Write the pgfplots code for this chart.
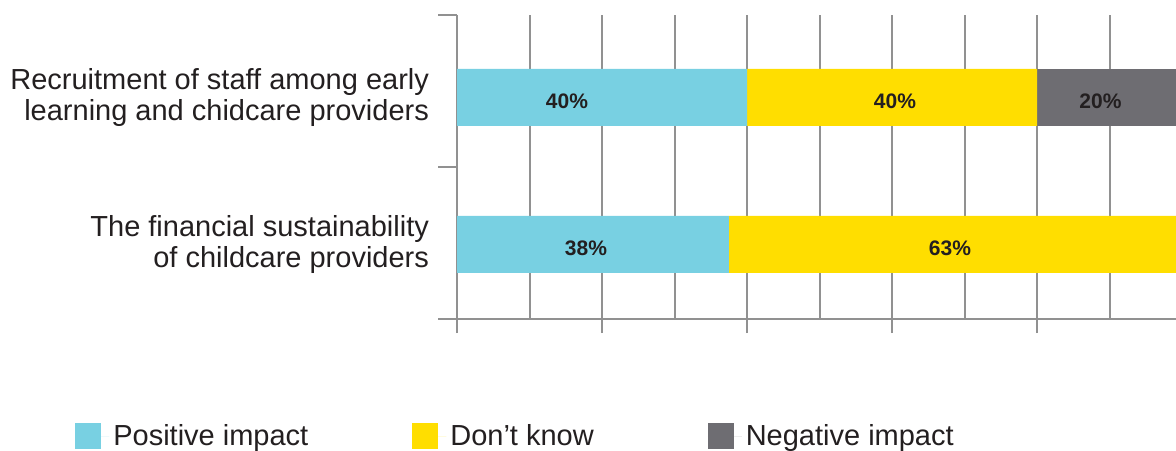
\documentclass[border=0pt]{standalone}
\usepackage{fontspec}
\setmainfont{Liberation Sans}
\usepackage{pgfplots}
\pgfplotsset{compat=1.18}
\definecolor{cpos}{RGB}{120,208,226}
\definecolor{cdk}{RGB}{255,222,0}
\definecolor{cneg}{RGB}{110,109,114}
\definecolor{cgrid}{RGB}{145,145,145}
\definecolor{ctext}{RGB}{35,31,32}
\protected\def\lbl#1#2{\makebox[0pt][c]{\hspace*{#1}#2}}
\begin{document}
\begin{tikzpicture}
\useasboundingbox (0,0) rectangle (588pt,225pt);
\clip (0,0) rectangle (588pt,225pt);
\begin{axis}[
 at={(228.5pt,65.5pt)}, anchor=south west,
 scale only axis, width=362.5pt, height=152pt,
 xbar stacked, bar width=0.388,
 xmin=0, xmax=100, ymin=-0.507, ymax=1.561,
 axis x line*=bottom, axis y line*=left,
 axis line style={cgrid, line width=1pt, -},
 xtick={0,20,...,100}, xticklabels={},
 minor xtick={10,30,...,90},
 xmajorgrids, xminorgrids,
 major grid style={cgrid, line width=1pt},
 minor grid style={cgrid, line width=1pt},
 tick align=outside,
 major tick length=9.5pt,
 x tick style={cgrid, line width=1pt, yshift=2.5pt},
 minor x tick style={draw=none},
 ytick={-0.507,0.527,1.561}, yticklabels={},
 y tick style={cgrid, line width=1pt},
 extra y ticks={0,1},
 extra y tick labels={{The financial sustainability\\of childcare providers},{Recruitment of staff among early\\learning and chidcare providers}},
 extra y tick style={tick style={draw=none}, yticklabel style={align=right, font=\fontsize{14.5}{15.5}\selectfont, text=ctext, xshift=-1pt}},
 point meta=explicit symbolic,
 nodes near coords={\pgfplotspointmeta},
 every node near coord/.append style={font=\fontsize{10.5}{12}\selectfont\bfseries, text=ctext, yshift=-2pt},
 legend columns=3,
 legend style={at={(-0.527,-0.385)}, anchor=west, draw=none, fill=none, inner sep=0pt, font=\fontsize{14.5}{16}\selectfont, text=ctext, /tikz/column 2/.style={column sep=50pt}, /tikz/column 4/.style={column sep=55pt}},
 legend image code/.code={\fill[#1] (0pt,-6.5pt) rectangle (13pt,6.5pt); \path (0pt,0pt) -- (17pt,0pt);},
 legend cell align=left,
]
\addplot[fill=cpos, draw=none] coordinates {(37.5,0) [\lbl{-7pt}{38\%}] (40,1) [\lbl{-35pt}{40\%}]};
\addplot[fill=cdk, draw=none] coordinates {(62.5,0) [\lbl{-5.5pt}{63\%}] (40,1) [\lbl{3pt}{40\%}]};
\addplot[fill=cneg, draw=none] coordinates {(0,0) [{}] (20,1) [\lbl{-9pt}{20\%}]};
\legend{Positive impact, Don’t know, Negative impact}
\end{axis}
\end{tikzpicture}
\end{document}
